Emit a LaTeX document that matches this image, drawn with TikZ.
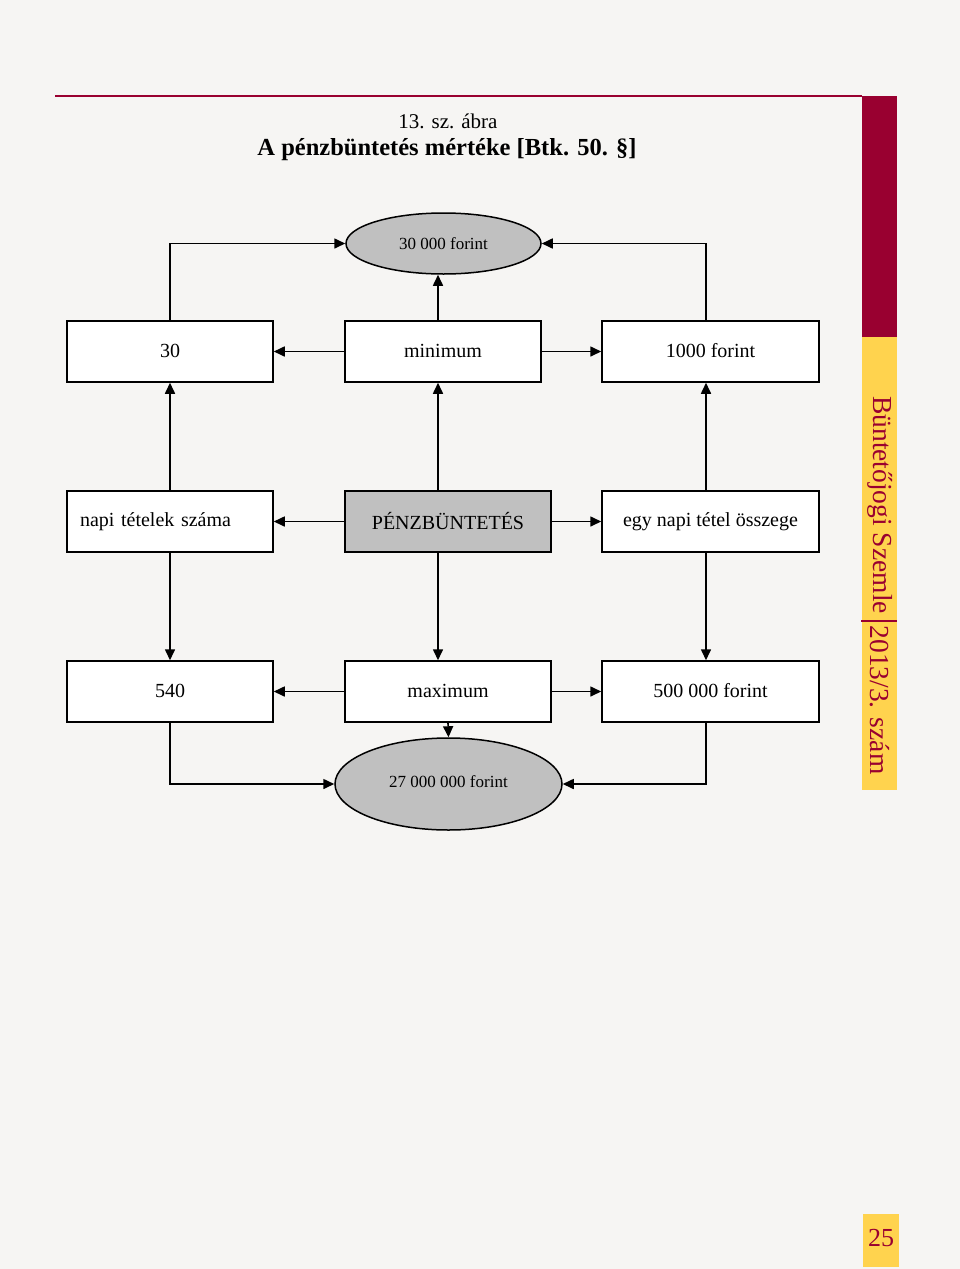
\documentclass[tikz,border=0pt]{standalone}
\usepackage{fontspec}
\setmainfont{Liberation Serif}
\usetikzlibrary{arrows.meta,shapes.geometric}
\definecolor{bg}{HTML}{F6F5F3}
\definecolor{dred}{HTML}{990030}
\definecolor{yel}{HTML}{FFD34E}
\definecolor{gfill}{HTML}{C0C0C0}
\tikzset{
  box/.style={draw=black, line width=1.5pt, fill=white, minimum height=61pt, inner sep=0pt,
    font=\fontsize{20}{24}\selectfont},
  ell/.style={ellipse, draw=black, line width=1.5pt, fill=gfill, inner sep=0pt,
    font=\fontsize{17}{20}\selectfont},
  arr/.style={line width=1.6pt, -{Triangle[length=11pt,width=10pt]}},
}
\begin{document}
\begin{tikzpicture}[x=1pt,y=-1pt]
\fill[bg] (0,0) rectangle (960,1269);
\useasboundingbox (0,0) rectangle (960,1269);
% header
\draw[dred, line width=1.6pt] (55,96) -- (862,96);
\fill[dred] (862,96) rectangle (897,337);
\fill[yel] (862,337) rectangle (897,790);
\node[rotate=-90, text=dred, font=\fontsize{27.5}{30}\selectfont, anchor=center] (sb1) at (880,505) {Büntetőjogi Szemle};
\draw[dred, line width=1.8pt] (861,621) -- (897,621);
\node[rotate=-90, text=dred, font=\fontsize{27.5}{30}\selectfont, anchor=center] (sb2) at (880,700) {2013/3. szám};
\fill[yel] (863,1214) rectangle (899,1267);
\node[text=dred, font=\fontsize{26}{30}\selectfont] (pg) at (881,1238) {25};
% title
\node[font=\fontsize{21}{25}\selectfont] (t1) at (448,121) {13. sz. ábra};
\node[font=\fontsize{24.5}{28}\selectfont\bfseries] (t2) at (447,150) {A pénzbüntetés mértéke [Btk. 50. §]};
% nodes
\node[ell, minimum width=195pt, minimum height=61pt] (e1) at (443.5,243.5) {\raisebox{-1.5pt}{30 000 forint}};
\node[box, minimum width=206pt] (n30) at (170,351.5) {\raisebox{2pt}{30}};
\node[box, minimum width=196pt] (nmin) at (443,351.5) {\raisebox{2pt}{minimum}};
\node[box, minimum width=217pt] (n1000) at (710.5,351.5) {\raisebox{2pt}{1000 forint}};
\node[box, minimum width=206pt, text width=180pt, align=left] (nnapi) at (170,521.5) {\raisebox{2pt}{napi tételek száma}};
\node[box, minimum width=206pt, fill=gfill] (npenz) at (448,521.5) {\raisebox{2pt}{PÉNZBÜNTETÉS}};
\node[box, minimum width=217pt] (negy) at (710.5,521.5) {\raisebox{2pt}{egy napi tétel összege}};
\node[box, minimum width=206pt] (n540) at (170,691.5) {\raisebox{2pt}{540}};
\node[box, minimum width=206pt] (nmax) at (448,691.5) {\raisebox{2pt}{maximum}};
\node[box, minimum width=217pt] (n500) at (710.5,691.5) {\raisebox{2pt}{500 000 forint}};
\node[ell, minimum width=227pt, minimum height=92pt] (e2) at (448.5,784) {\raisebox{4pt}{27 000 000 forint}};
% connectors
\draw[arr] (n30.north) |- (e1.west);
\draw[arr] ([xshift=-4.5pt]n1000.north) |- (e1.east);
\draw[arr] ([xshift=-5pt]nmin.north) -- ([xshift=-5.5pt]e1.south);
\draw[arr] (nmin.west) -- (n30.east);
\draw[arr] (nmin.east) -- (n1000.west);
\draw[arr] (nnapi.north) -- (n30.south);
\draw[arr] ([xshift=-10pt]npenz.north) -- ([xshift=-5pt]nmin.south);
\draw[arr] ([xshift=-4.5pt]negy.north) -- ([xshift=-4.5pt]n1000.south);
\draw[arr] (npenz.west) -- (nnapi.east);
\draw[arr] (npenz.east) -- (negy.west);
\draw[arr] (nnapi.south) -- (n540.north);
\draw[arr] ([xshift=-10pt]npenz.south) -- ([xshift=-10pt]nmax.north);
\draw[arr] ([xshift=-4.5pt]negy.south) -- ([xshift=-4.5pt]n500.north);
\draw[arr] (nmax.west) -- (n540.east);
\draw[arr] (nmax.east) -- (n500.west);
\draw[arr] (n540.south) |- (e2.west);
\draw[arr] ([xshift=-4.5pt]n500.south) |- (e2.east);
\draw[arr] (nmax.south) -- (e2.north);
\end{tikzpicture}
\end{document}
